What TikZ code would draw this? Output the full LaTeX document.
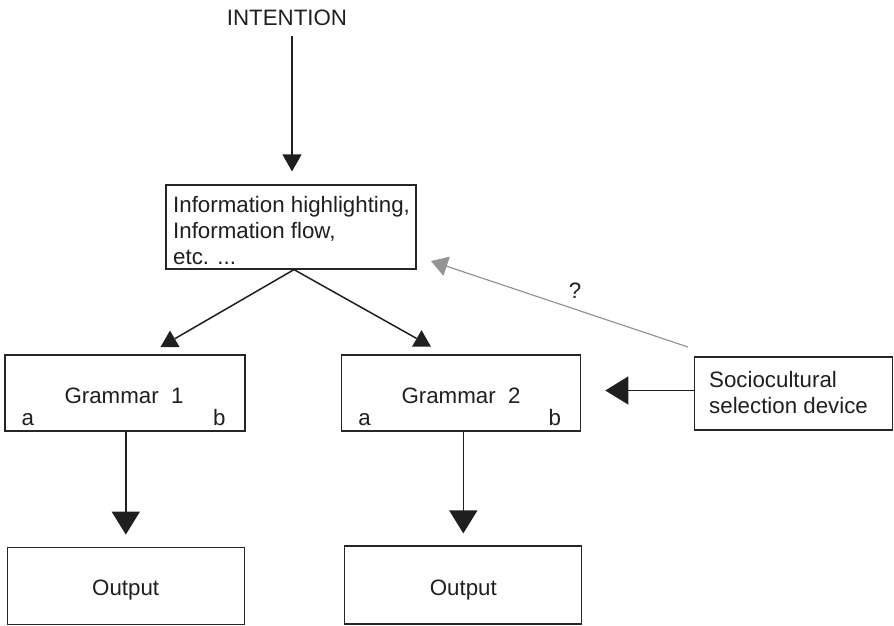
\documentclass[tikz,border=0pt]{standalone}
\usepackage{fontspec}
\setmainfont{Liberation Sans}
\usetikzlibrary{arrows.meta,shapes.geometric}
\begin{document}
\begin{tikzpicture}[x=1pt,y=-1pt,
  box/.style={draw=black!85, line width=1.2pt, inner sep=0pt},
  txt/.style={font=\fontsize{22.3}{25.8}\selectfont, inner sep=0pt, text=black!88},
  flow/.style={line width=1.5pt, draw=black!88},
  bigtip/.style={-{Triangle[length=23pt,width=28pt]}},
  toptip/.style={-{Triangle[length=17pt,width=19pt]}},
  greyflow/.style={line width=1.2pt, draw=black!42, -{Triangle[length=16.5pt,width=20pt]}},
  headmark/.style={regular polygon, regular polygon sides=3, fill=black!88, inner sep=0pt, minimum size=22pt}
]
\useasboundingbox (0,0) rectangle (894,625);

% boxes
\node[box, minimum width=250pt, minimum height=84pt] (info) at (291,227) {};
\node[box, minimum width=240pt, minimum height=76pt] (g1) at (125,393) {};
\node[box, minimum width=239pt, minimum height=76pt] (g2) at (461.2,393) {};
\node[box, minimum width=237pt, minimum height=77pt] (out1) at (125.8,585.7) {};
\node[box, minimum width=237pt, minimum height=78pt] (out2) at (463.3,585) {};
\node[box, minimum width=198.5pt, minimum height=73pt] (socio) at (793.6,393.5) {};

% texts (multi-line nodes are placed by the baseline of their last line)
\node[txt, anchor=base] (intention) at (287,25) {INTENTION};
\node[txt, anchor=base west, align=left] (infotext) at (173,264.5) {Information highlighting,\\Information flow,\\etc. ...};
\node[txt, anchor=base] (g1t) at (124,403) {Grammar\ \ 1};
\node[txt, anchor=base] (g2t) at (461,403) {Grammar\ \ 2};
\node[txt, anchor=base west] (g1a) at ([shift={(17,-6)}]g1.south west) {a};
\node[txt, anchor=base east] (g1b) at ([shift={(-20,-6)}]g1.south east) {b};
\node[txt, anchor=base west] (g2a) at ([shift={(17,-6)}]g2.south west) {a};
\node[txt, anchor=base east] (g2b) at ([shift={(-20,-6)}]g2.south east) {b};
\node[txt, anchor=base] (o1t) at (125.7,595) {Output};
\node[txt, anchor=base] (o2t) at (463.3,595) {Output};
\node[txt, anchor=base west, align=left] (sociotext) at (709,413.5) {Sociocultural\\selection device};
\node[txt, anchor=base] (qmark) at (575,298) {?};

% arrowhead markers below the info box
\node[headmark] (tipL) at (170,341.5) {};
\node[headmark] (tipR) at (421.5,341.2) {};

% connectors
\draw[flow, toptip, shorten <=11pt, shorten >=13pt]
  ([xshift=5pt]intention.south) -- ([xshift=5pt]intention.south |- info.north);
\draw[flow] ([xshift=3pt]info.south) -- (tipL);
\draw[flow] ([xshift=3pt]info.south) -- (tipR);
\draw[flow, bigtip, shorten >=12pt] (g1.south -| out1.north) -- (out1.north);
\draw[flow, bigtip, shorten >=12pt] (g2.south -| out2.north) -- (out2.north);
\draw[flow, bigtip, shorten >=24pt] ([yshift=3pt]socio.west) -- ([yshift=3pt]socio.west -| g2.east);
\coordinate (qs) at (688,347);
\coordinate (qe) at (431,261);
\draw[greyflow] (qs) -- (qe);
\end{tikzpicture}
\end{document}
